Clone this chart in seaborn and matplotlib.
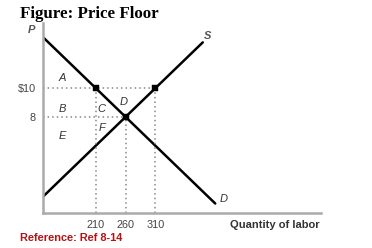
import matplotlib
matplotlib.use("Agg")
import matplotlib.pyplot as plt
import seaborn as sns
import pandas as pd

# Data
supply_q = [121, 390]
supply_p = [2.44, 13.2]
demand_q = [121, 411]
demand_p = [13.56, 1.96]
points_q = [210, 310, 260]
points_p = [10, 10, 8]
xticks = [210, 260, 310]
xtick_labels = ["210", "260", "310"]
yticks = [8, 10]
ytick_labels = ["8", "$10"]
region_labels = ["A", "B", "E", "C", "D", "F"]
region_q = [153, 153, 153, 220, 256, 220]
region_p = [10.7, 8.54, 6.65, 8.54, 9.02, 7.21]

sns.set_theme(style="white")
plt.rcParams['font.family'] = ['Liberation Sans', 'DejaVu Sans']

fig = plt.figure(figsize=(3.72, 2.48), dpi=100)
W, H = 372, 248
ax = fig.add_axes([43 / W, (H - 213) / H, (321 - 43) / W, (213 - 23) / H])
ax.set_xlim(121, 589)
ax.set_ylim(1.3, 14.55)

sup = pd.DataFrame({"q": supply_q, "p": supply_p})
dem = pd.DataFrame({"q": demand_q, "p": demand_p})
sns.lineplot(data=sup, x="q", y="p", ax=ax, color="black", lw=1.8, sort=False)
sns.lineplot(data=dem, x="q", y="p", ax=ax, color="black", lw=1.8, sort=False)

dot = dict(color="#888888", lw=1.1, ls=(0, (1, 2)))
ax.plot([121, points_q[1]], [points_p[0], points_p[0]], **dot)
ax.plot([121, points_q[2]], [points_p[2], points_p[2]], **dot)
for q, p in zip(points_q, points_p):
    ax.plot([q, q], [1.3, p], **dot)

pts = pd.DataFrame({"q": points_q, "p": points_p})
sns.scatterplot(data=pts, x="q", y="p", ax=ax, marker="s", color="black", s=14,
                edgecolor="black", zorder=5)

for lab, q, p in zip(region_labels, region_q, region_p):
    ax.text(q, p, lab, fontsize=8, style="italic", color="#333333",
            ha="center", va="center")

ax.text(398, 13.65, "S", fontsize=8, style="italic", fontweight="bold", color="#555555",
        ha="center", va="center")
ax.text(425, 2.3, "D", fontsize=8, style="italic", color="#333333",
        ha="center", va="center")

ax.set_xticks(xticks)
ax.set_xticklabels(xtick_labels)
ax.set_yticks(yticks)
ax.set_yticklabels(ytick_labels)
ax.tick_params(axis="both", labelsize=7.8, colors="#444444", length=0, pad=5)
ax.set_xlabel("")
ax.set_ylabel("")

for s in ["top", "right"]:
    ax.spines[s].set_visible(False)
for s in ["left", "bottom"]:
    ax.spines[s].set_color("#aaaaaa")
    ax.spines[s].set_linewidth(1.8)

fig.text(31.5 / W, 1 - 30 / H, "P", fontsize=8, style="italic", fontweight="bold",
         color="#555555", ha="center", va="center")
fig.text(320 / W, 1 - 225 / H, "Quantity of labor", fontsize=8, fontweight="bold",
         color="#333333", ha="right", va="center")
fig.text(20 / W, 1 - 238 / H, "Reference: Ref 8-14", fontsize=7.9, fontweight="bold",
         color="#b01515", ha="left", va="center")
fig.text(20 / W, 1 - 14 / H, "Figure: Price Floor", fontsize=12.2, fontweight="bold",
         family="Liberation Serif", color="black", ha="left", va="center")

fig.savefig("out.png", dpi=100)
